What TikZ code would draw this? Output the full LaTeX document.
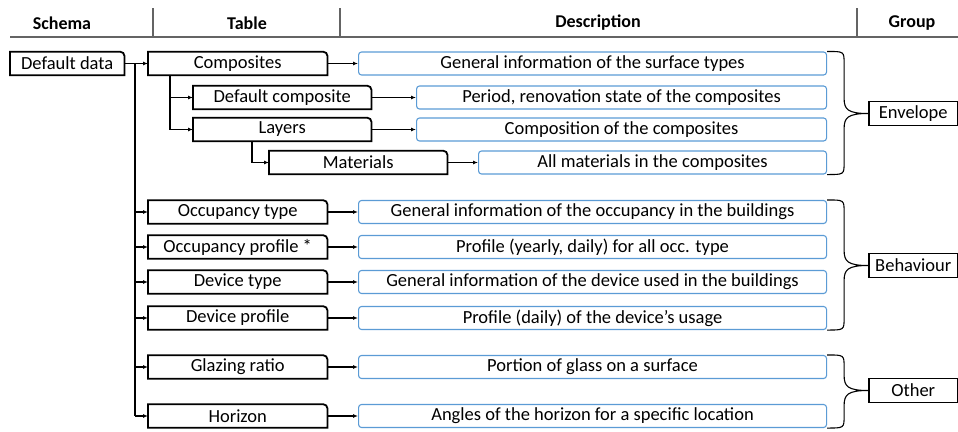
\documentclass[tikz,border=0pt]{standalone}
\usepackage{fontspec}
\setmainfont{Carlito}
\usetikzlibrary{arrows.meta,calc}

\definecolor{descblue}{RGB}{91,155,213}
\definecolor{hdrgray}{RGB}{100,100,100}

\tikzset{
        tbl/.style={anchor=west, minimum height=23pt, inner sep=0pt,
                font=\fontsize{18.5}{20}\selectfont},
        dsc/.style={anchor=west, draw=descblue, line width=1.1pt, rounded corners=3pt,
                minimum height=23pt, inner sep=0pt, font=\fontsize{18.5}{20}\selectfont},
        grp/.style={anchor=west, draw, line width=1.5pt, minimum width=89pt,
                minimum height=24pt, inner sep=0pt, font=\fontsize{18.5}{20}\selectfont},
        hdr/.style={font=\bfseries\fontsize{18}{20}\selectfont},
        arr/.style={-{Latex[length=5pt,width=4pt]}, line width=1.1pt},
        brc/.style={line width=1.1pt},
        sep/.style={draw=hdrgray, line width=1.2pt}
}

% brace from the first to the last description, pointing at the group box
\newcommand\grpbrace[3]{%
        \draw[brc] let \p1=(#1.north east), \p2=(#2.south east), \p3=(#3.west) in
                (\p1) .. controls (\x1+17pt,\y1) .. (\x1+17pt,\y1-12pt)
                -- (\x1+17pt,\y3+15pt) .. controls (\x1+17pt,\y3+4pt) and (\x1+21pt,\y3) .. (\p3)
                .. controls (\x1+21pt,\y3) and (\x1+17pt,\y3-4pt) .. (\x1+17pt,\y3-15pt)
                -- (\x1+17pt,\y2+12pt) .. controls (\x1+17pt,\y2) .. (\p2);}

\begin{document}
\begin{tikzpicture}[x=1pt, y=-1pt]
        \useasboundingbox (0,0) rectangle (958,431);

        % header
        \node[hdr] (hschema) at (62,23) {Schema};
        \node[hdr] (htable) at (247,23) {Table};
        \node[hdr] (hdesc) at (598,23) {Description};
        \node[hdr] (hgroup) at (912,23) {Group};
        \draw[sep] (10,37) -- (958,37);
        \foreach \x in {153,340,857}
                \draw[sep] (\x,8) -- (\x,37);

        % tables
        \node[tbl, minimum width=114pt] (dd) at (10,63.5) {Default data};
        \node[tbl, minimum width=179pt] (comp) at (148,63.5) {Composites};
        \node[tbl, minimum width=178pt] (dcomp) at (193,97.5) {Default composite};
        \node[tbl, minimum width=178pt] (lay) at (193,129.5) {Layers};
        \node[tbl, minimum width=178pt] (mat) at (269,162.5) {Materials};
        \node[tbl, minimum width=179pt] (occt) at (148,212) {Occupancy type};
        \node[tbl, minimum width=179pt] (occp) at (148,247) {Occupancy profile *};
        \node[tbl, minimum width=179pt] (devt) at (148,282) {Device type};
        \node[tbl, minimum width=179pt] (devp) at (148,318) {Device profile};
        \node[tbl, minimum width=179pt] (glaz) at (148,367) {Glazing ratio};
        \node[tbl, minimum width=179pt] (hor) at (148,416) {Horizon};
        \foreach \n in {dd,comp,dcomp,lay,mat,occt,occp,devt,devp,glaz,hor}
                \draw[line width=1.8pt] (\n.south west) -- (\n.north west)
                        -- ([xshift=-4pt]\n.north east) arc[start angle=90, end angle=0, radius=4pt]
                        -- (\n.south east) -- cycle;

        % descriptions
        \node[dsc, minimum width=468pt] (dcomp1) at (358,63.5) {General information of the surface types};
        \node[dsc, minimum width=410pt] (ddcomp) at (416,97.5) {Period, renovation state of the composites};
        \node[dsc, minimum width=410pt] (dlay) at (416,129.5) {Composition of the composites};
        \node[dsc, minimum width=348pt] (dmat) at (478,162.5) {All materials in the composites};
        \node[dsc, minimum width=468pt] (docct) at (358,212) {General information of the occupancy in the buildings};
        \node[dsc, minimum width=468pt] (doccp) at (358,247) {Profile (yearly, daily) for all occ. type};
        \node[dsc, minimum width=468pt] (ddevt) at (358,282) {General information of the device used in the buildings};
        \node[dsc, minimum width=468pt] (ddevp) at (358,318) {Profile (daily) of the device’s usage};
        \node[dsc, minimum width=468pt] (dglaz) at (358,367) {Portion of glass on a surface};
        \node[dsc, minimum width=468pt] (dhor) at (358,416) {Angles of the horizon for a specific location};

        % groups
        \node[grp] (env) at (868,113.5) {Envelope};
        \node[grp] (beh) at (868,265.5) {Behaviour};
        \node[grp] (oth) at (868,390.5) {Other};

        % tree
        \coordinate (t1) at (135,63.5);
        \draw[line width=1.1pt] (dd) -- (t1) -- (t1 |- hor);
        \foreach \n in {comp,occt,occp,devt,devp,glaz,hor}
                \draw[arr] (t1 |- \n) -- (\n);
        \coordinate (t2) at ([xshift=22pt]comp.south west);
        \draw[line width=1.1pt] (t2) -- (t2 |- lay);
        \foreach \n in {dcomp,lay}
                \draw[arr] (t2 |- \n) -- (\n);
        \coordinate (t3) at ([xshift=59pt]lay.south west);
        \draw[line width=1.1pt] (t3) -- (t3 |- mat);
        \draw[arr] (t3 |- mat) -- (mat);

        % table -> description
        \draw[arr] (comp) -- (dcomp1);
        \draw[arr] (dcomp) -- (ddcomp);
        \draw[arr] (lay) -- (dlay);
        \draw[arr] (mat) -- (dmat);
        \draw[arr] (occt) -- (docct);
        \draw[arr] (occp) -- (doccp);
        \draw[arr] (devt) -- (ddevt);
        \draw[arr] (devp) -- (ddevp);
        \draw[arr] (glaz) -- (dglaz);
        \draw[arr] (hor) -- (dhor);

        % braces
        \grpbrace{dcomp1}{dmat}{env}
        \grpbrace{docct}{ddevp}{beh}
        \grpbrace{dglaz}{dhor}{oth}
\end{tikzpicture}
\end{document}
